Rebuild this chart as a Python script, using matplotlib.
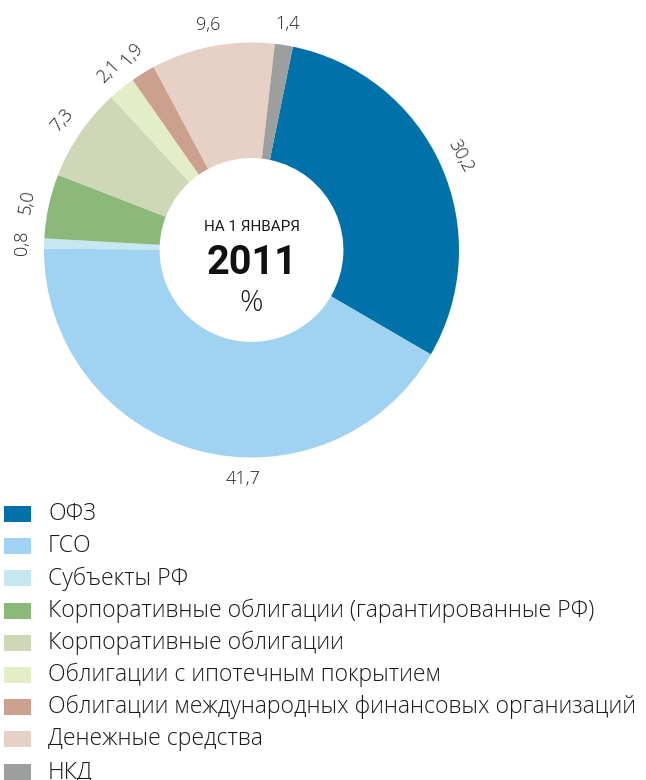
import matplotlib
matplotlib.use("Agg")
import matplotlib.pyplot as plt
from matplotlib.patches import Rectangle
import numpy as np

# shares of the portfolio, % (1 January 2011)
categories = [
    "ОФЗ",
    "ГСО",
    "Субъекты РФ",
    "Корпоративные облигации (гарантированные РФ)",
    "Корпоративные облигации",
    "Облигации с ипотечным покрытием",
    "Облигации международных финансовых организаций",
    "Денежные средства",
    "НКД",
]
values = [30.2, 41.7, 0.8, 5.0, 7.3, 2.1, 1.9, 9.6, 1.4]
value_labels = ["30,2", "41,7", "0,8", "5,0", "7,3", "2,1", "1,9", "9,6", "1,4"]

colors = ["#0072a9", "#a0d2f1", "#c6e6f2", "#8cb87a", "#cfd8b6",
          "#e3edc8", "#cca08e", "#e7d0c6", "#9d9e9e"]
# label placement tweaks (rotation, angle override)
label_rot = [-62, 0, 90, 80, 48, 46, 50, 0, 0]
label_angle = [None, 182, None, None, None, None, None, None, None]

W, H = 646, 780
fig = plt.figure(figsize=(W / 100, H / 100), dpi=100)

cx, cy, R = 251.5, 250, 207.5
ax = fig.add_axes([(cx - R) / W, (H - cy - R) / H, 2 * R / W, 2 * R / H])
ax.axis("off")

start = 78.5
wedges, _ = ax.pie(values, colors=colors, startangle=start, counterclock=False,
                   radius=1, wedgeprops=dict(width=0.557, linewidth=0))
ax.set_xlim(-1, 1)
ax.set_ylim(-1, 1)

light = dict(family="Open Sans", fontweight="light")

for i, w in enumerate(wedges):
    mid = (w.theta1 + w.theta2) / 2  # degrees, ccw from +x
    if label_angle[i] is not None:
        mid = 90 - label_angle[i]
    r = 1.105
    x, y = r * np.cos(np.radians(mid)), r * np.sin(np.radians(mid))
    ax.text(x, y, value_labels[i], ha="center", va="center", fontsize=13,
            rotation=label_rot[i], rotation_mode="anchor", color="#222222", **light)

ax.text(0, 0.11, "НА 1 ЯНВАРЯ", ha="center", va="center", fontsize=11,
        color="#1a1a1a", family="Roboto")
ax.text(0, -0.065, "2011", ha="center", va="center", fontsize=28.5,
        fontweight="bold", color="#111111", family="Roboto")
ax.text(0, -0.255, "%", ha="center", va="center", fontsize=21,
        color="#1a1a1a", **light)

# legend
y0, step = 514, 32.2
for i, (name, col) in enumerate(zip(categories, colors)):
    yc = y0 + i * step
    fig.add_artist(Rectangle((4 / W, 1 - (yc + 8) / H), 27 / W, 16 / H,
                             transform=fig.transFigure, color=col, lw=0))
    fig.text(48 / W, 1 - yc / H, name, ha="left", va="center",
             fontsize=16.6, color="#1a1a1a", **light)

fig.savefig("out.png", dpi=100)
